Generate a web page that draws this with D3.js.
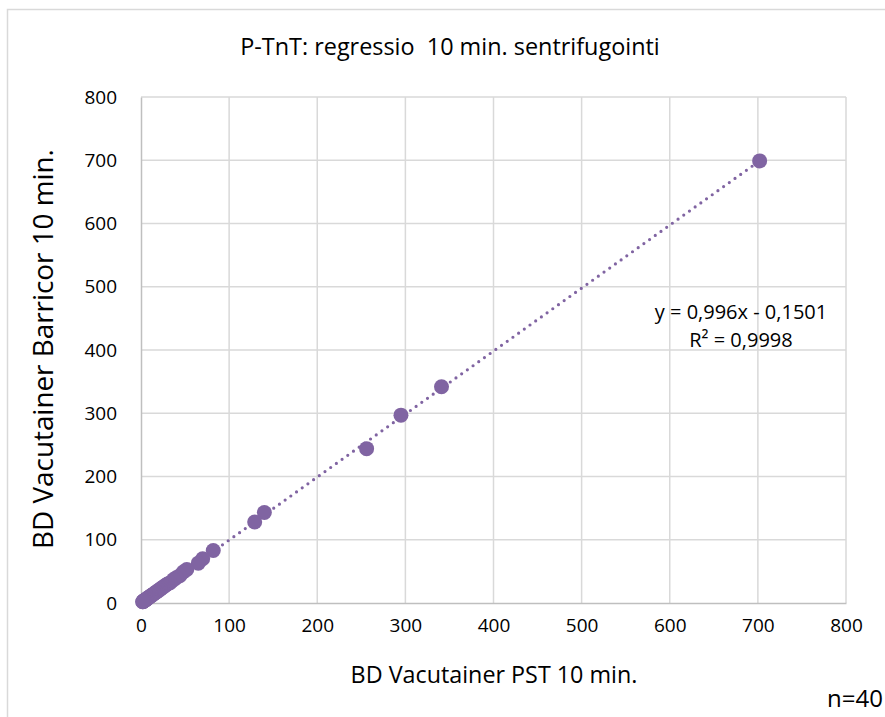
<!DOCTYPE html>
<html>
<head>
<meta charset="utf-8">
<script src="https://cdn.jsdelivr.net/npm/d3@7"></script>
<style>
  body { margin: 0; background: #fff; }
  text { font-family: "Open Sans", sans-serif; fill: #000; }
</style>
</head>
<body>
<script>
// Data
const xValues = [702, 341, 295, 256, 140, 129, 82, 70, 65, 52, 48, 44, 40, 37, 33, 30, 28, 26, 24, 22,
                 20, 18, 17, 15, 14, 12, 11, 10, 9, 8, 7, 6, 5, 5, 4, 4, 3, 3, 2, 2];
const yValues = [699, 342, 297, 244, 143, 128, 83, 70, 63, 53, 49, 43, 40, 37, 32, 30, 28, 26, 24, 22,
                 20, 18, 17, 15, 14, 12, 11, 10, 9, 8, 7, 6, 5, 5, 4, 4, 3, 3, 2, 2];
const tickValues = [0, 100, 200, 300, 400, 500, 600, 700, 800];
const slope = 0.996, intercept = -0.1501;
const titleText = 'P-TnT: regressio  10 min. sentrifugointi';
const xTitle = 'BD Vacutainer PST 10 min.';
const yTitle = 'BD Vacutainer Barricor 10 min.';
const eqLines = ['y = 0,996x - 0,1501', 'R² = 0,9998'];

const purple = '#8064a2';

const svg = d3.select('body').append('svg').attr('width', 885).attr('height', 717);

// Chart frame
svg.append('rect')
    .attr('x', 7.5).attr('y', 9.5)
    .attr('width', 900).attr('height', 720)
    .style('fill', 'none').style('stroke', '#d9d9d9').style('stroke-width', 1.5);

const x = d3.scaleLinear().domain([0, 800]).range([141, 846]);
const y = d3.scaleLinear().domain([0, 800]).range([603, 97]);

// Gridlines
const grid = svg.append('g');
grid.selectAll('line.v').data(tickValues.slice(1)).join('line')
    .attr('x1', d => x(d)).attr('x2', d => x(d))
    .attr('y1', y(0)).attr('y2', y(800))
    .style('stroke', '#d9d9d9').style('stroke-width', 1.5);
grid.selectAll('line.h').data(tickValues.slice(1)).join('line')
    .attr('x1', x(0)).attr('x2', x(800))
    .attr('y1', d => y(d)).attr('y2', d => y(d))
    .style('stroke', '#d9d9d9').style('stroke-width', 1.5);

// Axes
const xAxis = svg.append('g').attr('transform', `translate(0,${y(0)})`)
    .call(d3.axisBottom(x).tickValues(tickValues).tickSize(0).tickPadding(22));
const yAxis = svg.append('g').attr('transform', `translate(${x(0)},0)`)
    .call(d3.axisLeft(y).tickValues(tickValues).tickSize(0).tickPadding(24));
[xAxis, yAxis].forEach(a => {
  a.select('.domain').style('stroke', '#bfbfbf').style('stroke-width', 1.5);
  a.selectAll('text').style('font-size', '19px').style('font-family', '"Open Sans", sans-serif');
});
xAxis.selectAll('text').attr('dy', '0.35em');

// Trend line
const xMin = d3.min(xValues), xMax = d3.max(xValues);
svg.append('line')
    .attr('x1', x(xMin)).attr('y1', y(slope * xMin + intercept))
    .attr('x2', x(xMax)).attr('y2', y(slope * xMax + intercept))
    .style('stroke', purple).style('stroke-width', 3.2)
    .style('stroke-linecap', 'round').style('stroke-dasharray', '0 7');

// Points
svg.append('g').selectAll('circle')
    .data(xValues.map((v, i) => [v, yValues[i]]))
    .join('circle')
    .attr('cx', d => x(d[0])).attr('cy', d => y(d[1]))
    .attr('r', 7.5)
    .style('fill', purple);

// Text helper that fits a target width
function fitText(sel, target) {
  const w = sel.node().getComputedTextLength();
  const fs = parseFloat(sel.style('font-size'));
  sel.style('font-size', (fs * target / w) + 'px');
  return fs * target / w;
}

const title = svg.append('text')
    .attr('x', 450).attr('y', 55).attr('text-anchor', 'middle')
    .style('white-space', 'pre')
    .style('font-size', '19px').text(titleText);
fitText(title, 420);

const xt = svg.append('text')
    .attr('x', 494).attr('y', 683).attr('text-anchor', 'middle')
    .style('font-size', '19px').text(xTitle);
fitText(xt, 287);

const yt = svg.append('text')
    .attr('transform', 'translate(53,349) rotate(-90)').attr('text-anchor', 'middle')
    .style('font-size', '19px').text(yTitle);
fitText(yt, 400);

svg.selectAll('text.eq').data(eqLines).join('text')
    .attr('class', 'eq')
    .attr('x', 741).attr('y', (d, i) => 319 + i * 28)
    .attr('text-anchor', 'middle')
    .style('font-size', '20px')
    .text(d => d);

svg.append('text')
    .attr('x', 883).attr('y', 707).attr('text-anchor', 'end')
    .style('font-size', '24px').text('n=40');
</script>
</body>
</html>
